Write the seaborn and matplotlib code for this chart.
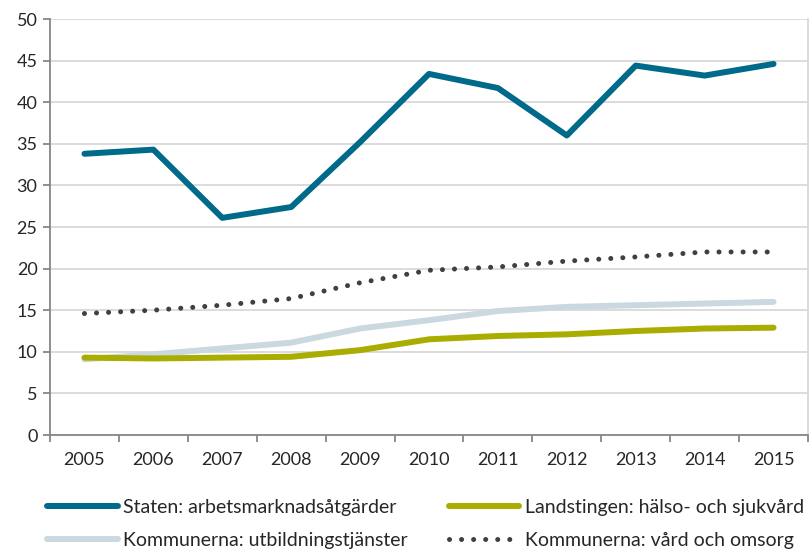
import matplotlib
matplotlib.use("Agg")
import matplotlib.pyplot as plt
import seaborn as sns
import pandas as pd
import numpy as np

# data
years = [2005, 2006, 2007, 2008, 2009, 2010, 2011, 2012, 2013, 2014, 2015]
staten = [33.8, 34.3, 26.1, 27.4, 35.2, 43.4, 41.7, 36.0, 44.4, 43.2, 44.6]
landstingen = [9.3, 9.2, 9.3, 9.4, 10.2, 11.5, 11.9, 12.1, 12.5, 12.8, 12.9]
utbildning = [9.1, 9.7, 10.4, 11.1, 12.8, 13.8, 14.9, 15.4, 15.6, 15.8, 16.0]
omsorg = [14.6, 15.0, 15.6, 16.4, 18.3, 19.8, 20.2, 20.9, 21.4, 22.0, 22.0]

labels = ["Staten: arbetsmarknadsåtgärder",
          "Kommunerna: utbildningstjänster",
          "Landstingen: hälso- och sjukvård",
          "Kommunerna: vård och omsorg"]

sns.set_theme(style="white")
plt.rcParams['font.family'] = ['Lato', 'DejaVu Sans']

pos = np.arange(len(years))
df = pd.DataFrame({"pos": pos, "staten": staten, "landstingen": landstingen,
                   "utbildning": utbildning, "omsorg": omsorg})

fig = plt.figure(figsize=(8.09, 5.51), dpi=100)
ax = fig.add_axes([50/809, 116/551, 758/809, 416/551])

sns.lineplot(data=df, x="pos", y="omsorg", ax=ax, color="#404040", lw=3.6,
             linestyle=(0, (0.01, 2.4)), dash_capstyle="round", label=labels[3])
sns.lineplot(data=df, x="pos", y="utbildning", ax=ax, color="#C9D9DF", lw=4.3,
             solid_capstyle="round", label=labels[1])
sns.lineplot(data=df, x="pos", y="landstingen", ax=ax, color="#A8AD00", lw=4.3,
             solid_capstyle="round", label=labels[2])
sns.lineplot(data=df, x="pos", y="staten", ax=ax, color="#006A8A", lw=4.3,
             solid_capstyle="round", label=labels[0])

ax.set_xlim(-0.5, len(years) - 0.5)
ax.set_ylim(0, 50)
ax.set_yticks(range(0, 51, 5))
ax.set_xticks(pos)
ax.set_xticklabels([str(y) for y in years])
ax.set_xticks(np.arange(-0.5, len(years), 1.0), minor=True)
ax.set_xlabel("")
ax.set_ylabel("")
ax.grid(axis="y", color="#D9D9D9", lw=1.3)
ax.set_axisbelow(True)

for s in ["left", "bottom"]:
    ax.spines[s].set_color("#868686")
    ax.spines[s].set_linewidth(1.3)
ax.spines["top"].set_visible(False)
ax.spines["right"].set_color("#D9D9D9")
ax.spines["right"].set_linewidth(1.3)

ax.tick_params(axis="y", which="major", left=True, length=5, width=1.3,
               color="#868686", labelsize=13, pad=4)
ax.tick_params(axis="x", which="major", bottom=False, length=0,
               labelsize=13, pad=12)
ax.tick_params(axis="x", which="minor", bottom=True, length=5, width=1.3,
               color="#868686")

handles, labs = ax.get_legend_handles_labels()
order = [labs.index(l) for l in labels]
ax.legend_.remove()
fig.legend([handles[i] for i in order], [labs[i] for i in order], ncol=2,
           loc="upper left", bbox_to_anchor=(30/809, 1 - 481/551),
           frameon=False, fontsize=14, handlelength=3.6, handletextpad=0.3,
           columnspacing=2.1, labelspacing=0.85)

fig.savefig("out.png", dpi=100)
